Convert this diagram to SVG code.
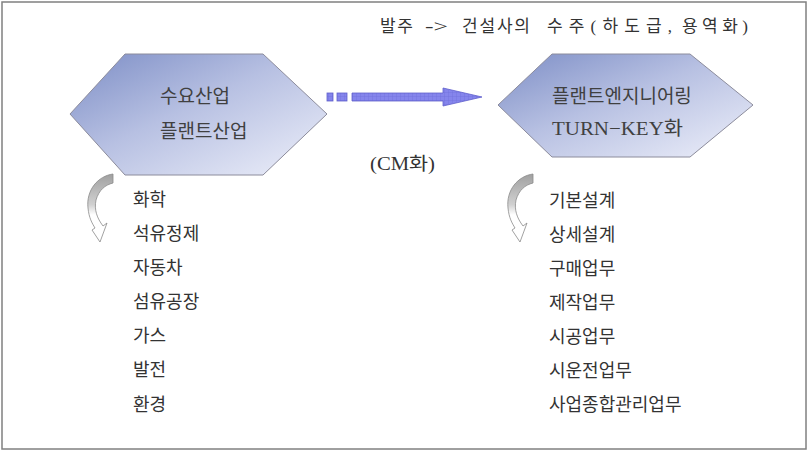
<svg xmlns="http://www.w3.org/2000/svg" width="812" height="453" viewBox="0 0 812 453">
  <style>
    .hex { fill: url(#hexGrad); stroke: #8c8c9c; stroke-width: 1; }
    .ko { font-family: "Liberation Serif", "Noto Sans CJK KR", serif; fill: #333333; }
    .hx { font-size: 19px; fill: #404040; }
    .li { font-size: 18px; }
    .top { font-size: 17px; }
    .curve { fill: url(#curveGrad); stroke: #8a8a8a; stroke-width: 0.8; }
  </style>
  <defs>
    <linearGradient id="hexGrad" x1="0" y1="0" x2="1" y2="1">
      <stop offset="0" stop-color="#7d8ec6"/>
      <stop offset="0.45" stop-color="#b7c0e2"/>
      <stop offset="1" stop-color="#eef0fa"/>
    </linearGradient>
    <linearGradient id="curveGrad" x1="0" y1="0" x2="0" y2="1">
      <stop offset="0" stop-color="#a0a0a0"/>
      <stop offset="0.45" stop-color="#d0d0d0"/>
      <stop offset="0.6" stop-color="#ffffff"/>
      <stop offset="1" stop-color="#ffffff"/>
    </linearGradient>
    <pattern id="grid" width="4" height="4" patternUnits="userSpaceOnUse">
      <rect width="4" height="4" fill="#8585ec"/>
      <path d="M0 0H4M0 0V4" stroke="#6b6bd6" stroke-width="0.6"/>
    </pattern>
  </defs>

  <rect x="2" y="2" width="804" height="447" fill="#ffffff" stroke="#808080" stroke-width="1.5"/>

  <g id="title" class="ko top">
    <text x="380" y="32" textLength="33" lengthAdjust="spacing">발주</text>
    <text x="425" y="32" textLength="23" lengthAdjust="spacingAndGlyphs">-&gt;</text>
    <text x="462" y="32" textLength="68" lengthAdjust="spacing">건설사의</text>
    <text x="547" y="32" textLength="125" lengthAdjust="spacing">수주(하도급,</text>
    <text x="682" y="32" textLength="66" lengthAdjust="spacing">용역화)</text>
  </g>

  <g id="node-demand">
    <polygon class="hex" points="70,114 125,54 263,54 327,114 263,175 125,175"/>
    <text class="ko hx" x="160" y="103">수요산업</text>
    <text class="ko hx" x="160" y="138">플랜트산업</text>
  </g>

  <g id="node-engineering">
    <polygon class="hex" points="498,105 552,54 690,54 753,105 690,157 552,157"/>
    <text class="ko hx" x="552" y="103" font-size="18.5">플랜트엔지니어링</text>
    <text class="ko hx" x="552" y="135" font-size="18.5" textLength="131" lengthAdjust="spacingAndGlyphs">TURN−KEY화</text>
  </g>

  <g id="connectors">
    <g id="arrow-cm" fill="url(#grid)" stroke="#6060cc" stroke-width="0.8">
      <rect x="327" y="93" width="6" height="8"/>
      <rect x="337" y="93" width="10" height="8"/>
      <path d="M352,93 L443,93 L443,88 L482,97 L443,106 L443,101 L352,101 Z"/>
    </g>
    <path id="curve-left" class="curve" d="M113,174 C98,176 86,190 88,208 C89,218 92,223 95,228 L92,230 L100,242 L107,223 L103,226 C97,218 94,210 96,200 C99,190 105,185 113,183 Z"/>
    <path id="curve-right" class="curve" transform="translate(420,0)" d="M113,174 C98,176 86,190 88,208 C89,218 92,223 95,228 L92,230 L100,242 L107,223 L103,226 C97,218 94,210 96,200 C99,190 105,185 113,183 Z"/>
  </g>

  <text class="ko" x="370" y="170" font-size="18" textLength="65" lengthAdjust="spacingAndGlyphs">(CM화)</text>

  <g id="list-demand" class="ko li">
    <text x="133" y="206">화학</text>
    <text x="133" y="240">석유정제</text>
    <text x="133" y="274">자동차</text>
    <text x="133" y="308">섬유공장</text>
    <text x="133" y="342">가스</text>
    <text x="133" y="376">발전</text>
    <text x="133" y="411">환경</text>
  </g>

  <g id="list-engineering" class="ko li">
    <text x="549" y="207">기본설계</text>
    <text x="549" y="241">상세설계</text>
    <text x="549" y="275">구매업무</text>
    <text x="549" y="309">제작업무</text>
    <text x="549" y="343">시공업무</text>
    <text x="549" y="377">시운전업무</text>
    <text x="549" y="411">사업종합관리업무</text>
  </g>
</svg>
